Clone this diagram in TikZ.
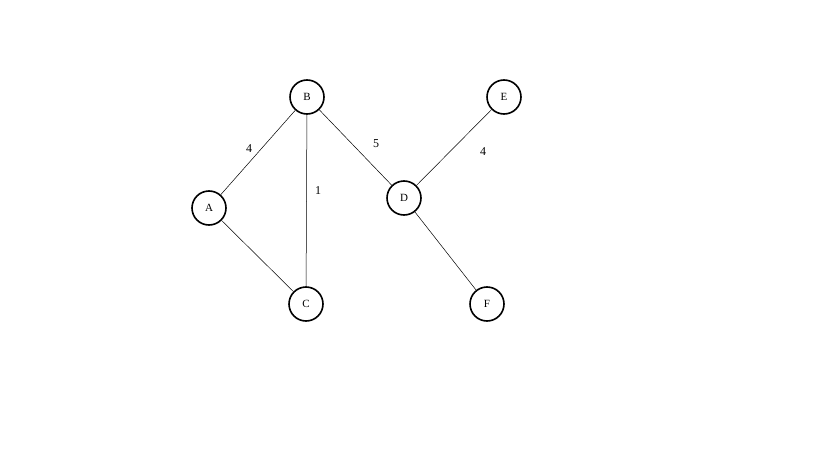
\documentclass[tikz,border=0pt]{standalone}
\usepackage{fontspec}
\setmainfont{Liberation Serif}
\begin{document}
\begin{tikzpicture}[x=1pt,y=-1pt,
  vtx/.style={circle,draw,line width=1.6pt,minimum size=34pt,inner sep=0pt,font=\fontsize{11}{13}\selectfont},
  lbl/.style={font=\fontsize{12}{14}\selectfont},
  edge/.style={draw,line width=0.5pt}]
\useasboundingbox (0,0) rectangle (819,460);
\node[vtx] (B) at (307,97) {B};
\node[vtx] (E) at (504,97) {E};
\node[vtx] (A) at (209,208) {A};
\node[vtx] (D) at (404,198) {D};
\node[vtx] (C) at (306,304) {C};
\node[vtx] (F) at (487,304) {F};
\draw[edge] (A) -- (B);
\draw[edge] (A) -- (C);
\draw[edge] (B) -- (C);
\draw[edge] (B) -- (D);
\draw[edge] (D) -- (E);
\draw[edge] (D) -- (F);
\node[lbl] (l1) at (249,149) {4};
\node[lbl] (l2) at (318,191) {1};
\node[lbl] (l3) at (376,144) {5};
\node[lbl] (l4) at (483,152) {4};
\end{tikzpicture}
\end{document}
